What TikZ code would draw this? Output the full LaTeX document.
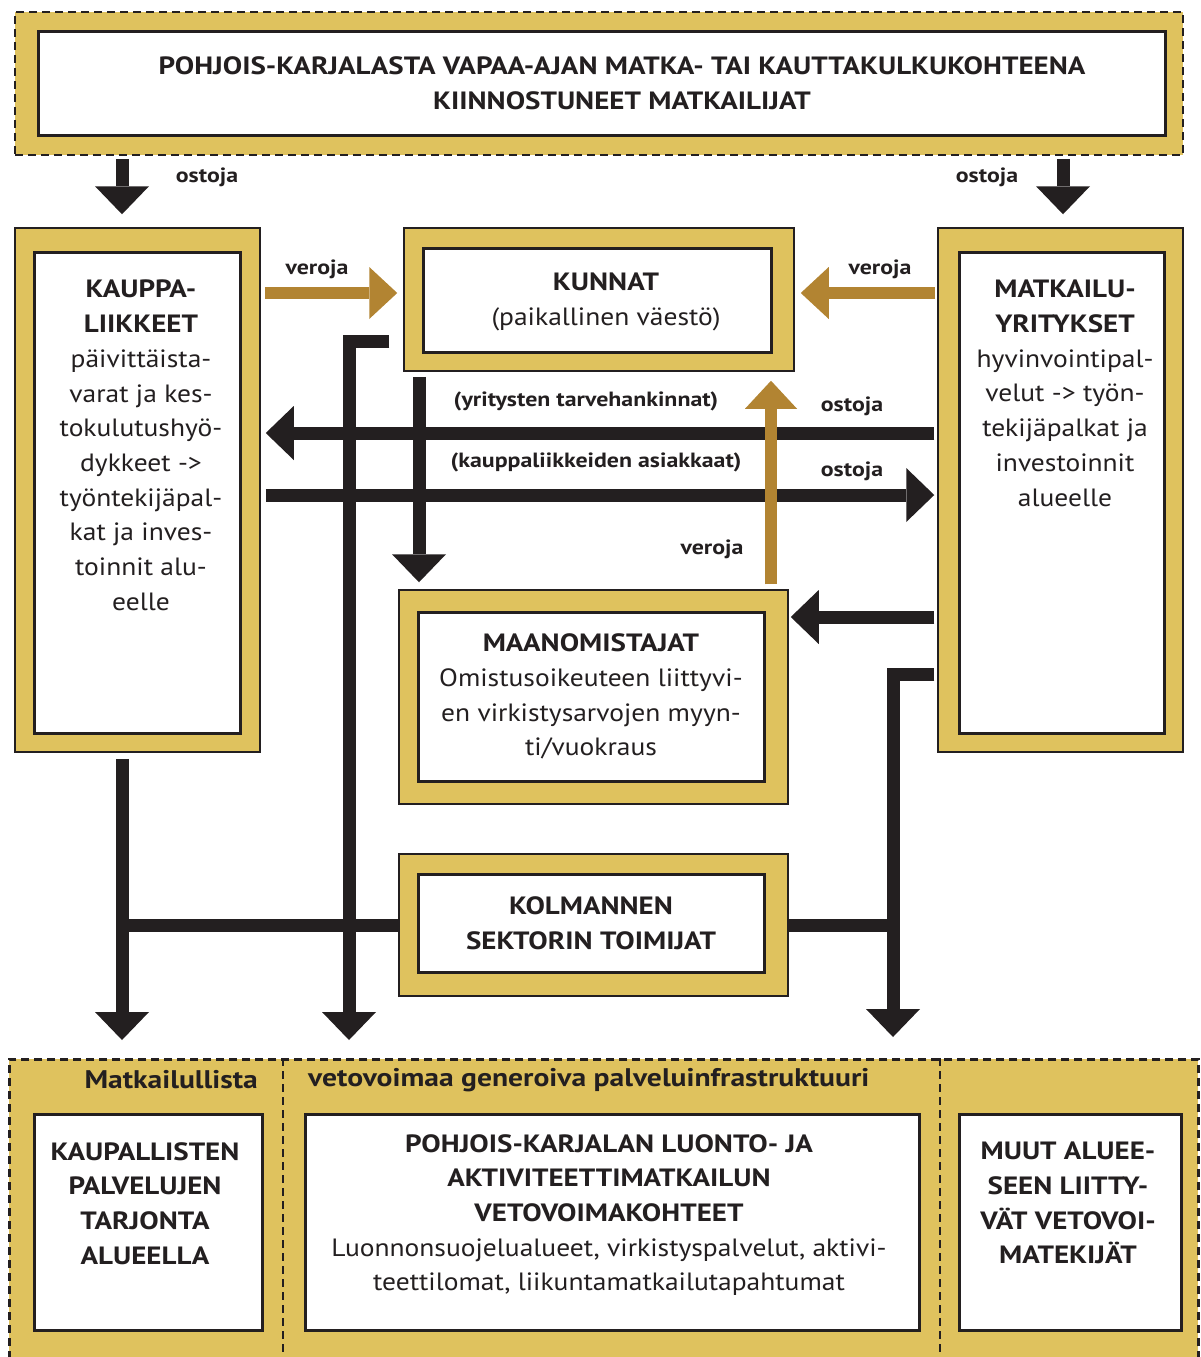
\documentclass[tikz,border=0pt]{standalone}
\usepackage{fontspec}
\setmainfont{PT Sans}[UprightFeatures={FakeStretch=1.1}, BoldFeatures={FakeStretch=1.16}]
\usetikzlibrary{arrows.meta}

\definecolor{kulta}{RGB}{223,194,94}
\definecolor{ruskea}{RGB}{178,132,50}
\definecolor{musta}{RGB}{35,31,32}

\newcommand\isoteksti{\fontsize{25}{34.7}\selectfont}
\newcommand\pienteksti{\fontsize{20.6}{24}\selectfont\bfseries}
\newcommand\alueteksti{\fontsize{25.5}{30}\selectfont\bfseries}

\tikzset{
	kehys/.style={draw=musta, line width=1.5pt, fill=kulta, inner sep=0pt},
	katkokehys/.style={kehys, line width=2.5pt, dash pattern=on 8pt off 5pt},
	jakoviiva/.style={draw=musta, line width=2.5pt, dash pattern=on 8pt off 5pt},
	ruutu/.style={draw=musta, line width=3pt, fill=white, inner sep=0pt, align=center, text=musta, font=\isoteksti},
	teksti/.style={inner sep=0pt, align=center, text=musta, font=\isoteksti},
	selite/.style={inner sep=0pt, text=musta, font=\pienteksti},
	musta nuoli/.style={draw=musta, line width=13pt, -{Triangle[length=28pt, width=54pt, line width=0pt]}},
	vero nuoli/.style={draw=ruskea, line width=12pt, -{Triangle[length=28pt, width=52pt, line width=0pt]}},
	musta viiva/.style={draw=musta, line width=13pt}
}

\begin{document}
\begin{tikzpicture}[x=1pt, y=-1pt]
	\useasboundingbox (0,0) rectangle (1200,1357);
	
	%	matkailijat
	\node[katkokehys, minimum width=1168pt, minimum height=143pt] (matkailijatK) at (599,83.5) {};
	\node[ruutu, minimum width=1127pt, minimum height=104pt] (matkailijat) at (601.5,83) {};
	\node[teksti] (matkailijatT) at (622,83)
		{\textbf{POHJOIS-KARJALASTA VAPAA-AJAN MATKA- TAI KAUTTAKULKUKOHTEENA}\\\textbf{KIINNOSTUNEET MATKAILIJAT}};
	
	%	kauppaliikkeet
	\node[kehys, minimum width=245pt, minimum height=524pt] (kauppaK) at (137.5,490) {};
	\node[ruutu, minimum width=206pt, minimum height=481pt] (kauppa) at (137,492.5) {};
	\node[teksti, anchor=north] (kauppaT) at (141,280)
		{\textbf{KAUPPA-}\\\textbf{LIIKKEET}\\päivittäista-\\varat ja kes-\\tokulutushyö-\\dykkeet ->\\työntekijäpal-\\kat ja inves-\\toinnit alu-\\eelle};
	
	%	kunnat
	\node[kehys, minimum width=390pt, minimum height=143pt] (kunnatK) at (599,299.5) {};
	\node[ruutu, minimum width=348pt, minimum height=104pt] (kunnat) at (597,300) {};
	\node[teksti] (kunnatT) at (606,302)
		{\textbf{KUNNAT}\\(paikallinen väestö)};
	
	%	matkailuyritykset
	\node[kehys, minimum width=245pt, minimum height=524pt] (yrityksetK) at (1060.5,490) {};
	\node[ruutu, minimum width=205pt, minimum height=481pt] (yritykset) at (1061.5,492.5) {};
	\node[teksti, anchor=north] (yrityksetT) at (1065,280)
		{\textbf{MATKAILU-}\\\textbf{YRITYKSET}\\hyvinvointipal-\\velut -> työn-\\tekijäpalkat ja\\investoinnit\\alueelle};
	
	%	maanomistajat
	\node[kehys, minimum width=389pt, minimum height=214pt] (maanK) at (593.5,697) {};
	\node[ruutu, minimum width=346pt, minimum height=169pt] (maan) at (591,696.5)
		{\textbf{MAANOMISTAJAT}\\Omistusoikeuteen liittyvi-\\en virkistysarvojen myyn-\\ti/vuokraus};
	
	%	kolmas sektori
	\node[kehys, minimum width=389pt, minimum height=142pt] (kolmasK) at (593.5,925) {};
	\node[ruutu, minimum width=346pt, minimum height=98pt] (kolmas) at (591,923)
		{\textbf{KOLMANNEN}\\\textbf{SEKTORIN TOIMIJAT}};
	
	%	alaosa
	\node[katkokehys, minimum width=1189pt, minimum height=320pt, anchor=north west] (alue) at (8,1058) {};
	\draw[jakoviiva] (283,1058) -- (283,1357);
	\draw[jakoviiva] (940,1058) -- (940,1357);
	\node[teksti, font=\alueteksti, anchor=east] (otsikkoA) at (258,1080) {Matkailullista};
	\node[teksti, font=\alueteksti, anchor=west] (otsikkoB) at (308,1080) {vetovoimaa generoiva palveluinfrastruktuuri};
	
	\node[ruutu, minimum width=228pt, minimum height=216pt] (kaupalliset) at (148,1222) {};
	\node[teksti, font=\isoteksti\bfseries, anchor=north] (kaupallisetT) at (145,1142)
		{KAUPALLISTEN\\PALVELUJEN\\TARJONTA\\ALUEELLA};
	\node[ruutu, minimum width=614pt, minimum height=216pt] (kohteet) at (612,1222) {};
	\node[teksti, anchor=north] (kohteetT) at (609,1134)
		{\textbf{POHJOIS-KARJALAN LUONTO- JA}\\\textbf{AKTIVITEETTIMATKAILUN}\\\textbf{VETOVOIMAKOHTEET}\\Luonnonsuojelualueet, virkistyspalvelut, aktivi-\\teettilomat, liikuntamatkailutapahtumat};
	\node[ruutu, minimum width=222pt, minimum height=216pt] (muut) at (1070,1222) {};
	\node[teksti, font=\isoteksti\bfseries, anchor=north] (muutT) at (1068,1142)
		{MUUT ALUEE-\\SEEN LIITTY-\\VÄT VETOVOI-\\MATEKIJÄT};
	
	%	sarakkeet ja rivit
	\coordinate (xKauppa) at (122,0);
	\coordinate (xYritys) at (1063,0);
	\coordinate (xVasen) at (349,0);
	\coordinate (xKunnat) at (419,0);
	\coordinate (xVero) at (771,0);
	\coordinate (xOikea) at (893,0);
	\coordinate (yVero) at (0,293);
	\coordinate (yKulma) at (0,341);
	\coordinate (yHankinnat) at (0,433);
	\coordinate (yAsiakkaat) at (0,495);
	\coordinate (yMaan) at (0,617);
	\coordinate (yKulma2) at (0,674);
	
	%	rahavirrat
	\draw[musta nuoli, shorten <=3pt, shorten >=13pt] (matkailijatK.south -| xKauppa) -- (kauppaK.north -| xKauppa);
	\draw[musta nuoli, shorten <=3pt, shorten >=13pt] (matkailijatK.south -| xYritys) -- (yrityksetK.north -| xYritys);
	\draw[musta nuoli, shorten <=3pt, shorten >=5pt] (yrityksetK.west |- yHankinnat) -- (kauppaK.east |- yHankinnat);
	\draw[musta nuoli, shorten <=5pt, shorten >=3pt] (kauppaK.east |- yAsiakkaat) -- (yrityksetK.west |- yAsiakkaat);
	\draw[musta nuoli, shorten <=5pt, shorten >=7pt] (kunnatK.south -| xKunnat) -- (maanK.north -| xKunnat);
	\draw[musta nuoli, shorten <=14pt, shorten >=18pt] (kunnatK.west |- yKulma) -- (xVasen |- yKulma) -- (alue.north -| xVasen);
	\draw[musta nuoli, shorten <=3pt, shorten >=2pt] (yrityksetK.west |- yMaan) -- (maanK.east |- yMaan);
	\draw[musta nuoli, shorten <=3pt, shorten >=21pt] (yrityksetK.west |- yKulma2) -- (xOikea |- yKulma2) -- (alue.north -| xOikea);
	\draw[musta nuoli, shorten <=6pt, shorten >=18pt] (kauppaK.south -| xKauppa) -- (alue.north -| xKauppa);
	\draw[musta viiva] (kolmasK.west) -- (kolmasK.west -| xKauppa);
	\draw[musta viiva] (kolmasK.east) -- (kolmasK.east -| xOikea);
	
	%	verot
	\draw[vero nuoli, shorten <=4pt, shorten >=6pt] (kauppaK.east |- yVero) -- (kunnatK.west |- yVero);
	\draw[vero nuoli, shorten <=2pt, shorten >=6pt] (yrityksetK.west |- yVero) -- (kunnatK.east |- yVero);
	\draw[vero nuoli, shorten <=5pt, shorten >=9pt] (maanK.north -| xVero) -- (kunnatK.south -| xVero);
	
	%	selitteet
	\node[selite] (ostojaA) at (207,177) {ostoja};
	\node[selite] (ostojaB) at (987,177) {ostoja};
	\node[selite] (verojaA) at (317,269) {veroja};
	\node[selite] (verojaB) at (880,269) {veroja};
	\node[selite] (verojaC) at (712,549) {veroja};
	\node[selite] (hankinnat) at (586,401) {(yritysten tarvehankinnat)};
	\node[selite] (ostojaC) at (852,406) {ostoja};
	\node[selite] (asiakkaat) at (596,462) {(kauppaliikkeiden asiakkaat)};
	\node[selite] (ostojaD) at (852,471) {ostoja};
\end{tikzpicture}
\end{document}
